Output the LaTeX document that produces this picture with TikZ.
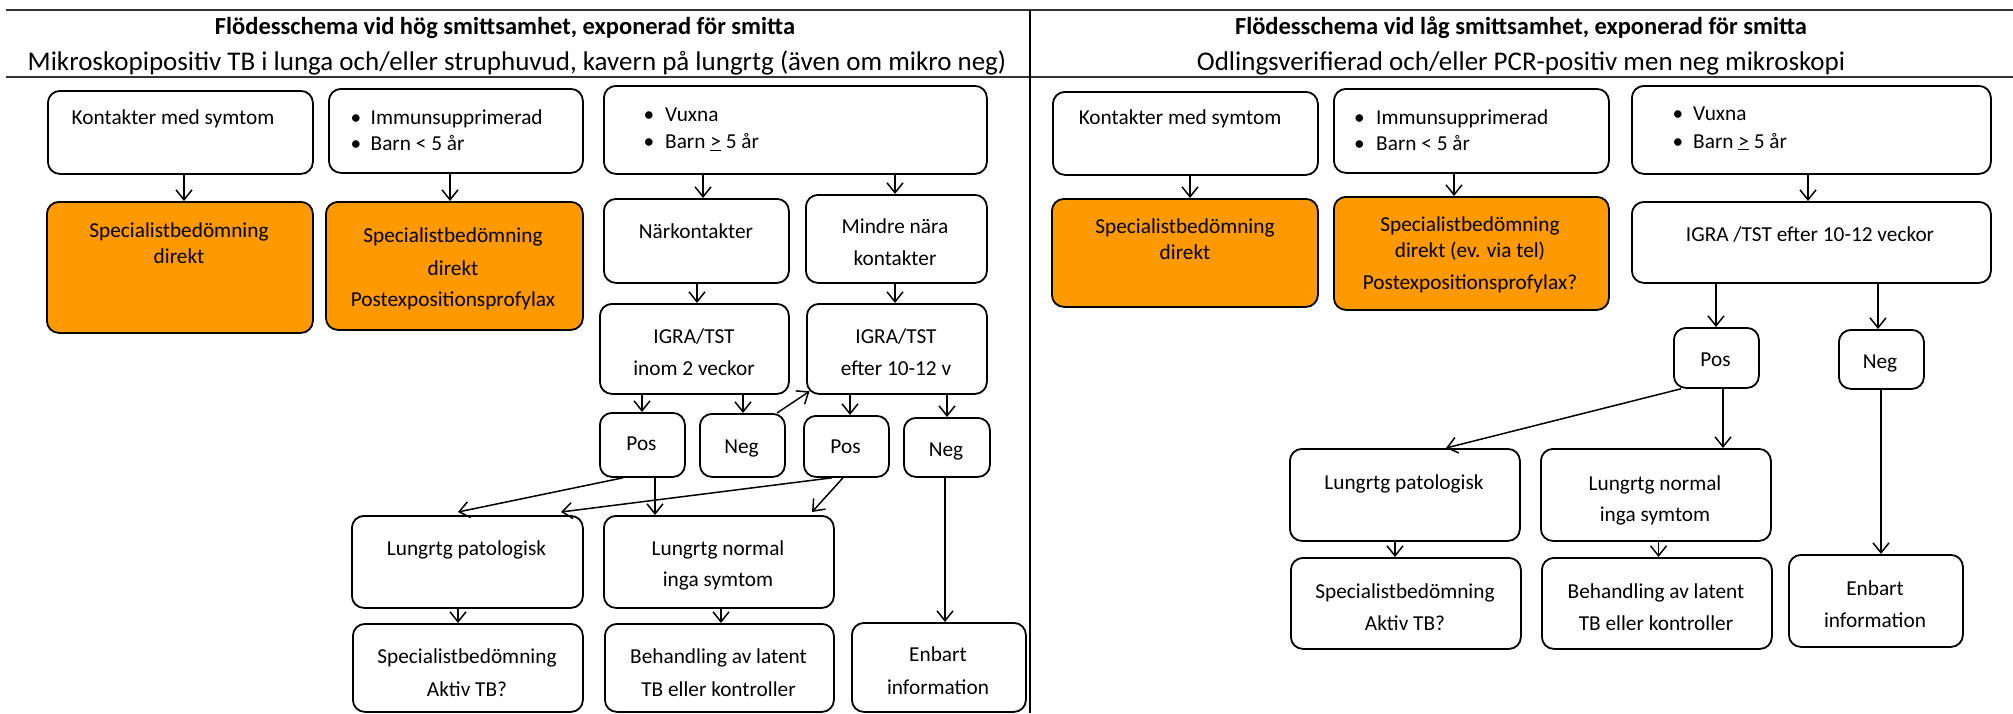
\documentclass[tikz,border=0pt]{standalone}
\usepackage{fontspec}
\setmainfont{Carlito}
\usetikzlibrary{arrows.meta}
\definecolor{orangefill}{RGB}{255,153,0}
\begin{document}
\begin{tikzpicture}[x=1pt,y=-1pt,
  box/.style={draw, line width=1.8pt, rounded corners=12pt, inner sep=0pt, anchor=north west},
  obox/.style={box, fill=orangefill},
  txt/.style={font=\fontsize{21.3}{26}\selectfont, inner sep=0pt, anchor=base},
  ltxt/.style={txt, anchor=base west},
  ttl/.style={font=\fontsize{24.5}{28}\selectfont\bfseries, inner sep=0pt, anchor=base},
  bigsub/.style={font=\fontsize{27}{32}\selectfont, inner sep=0pt, anchor=base},
  arr/.style={line width=1.5pt, -{Straight Barb[length=10pt,width=16pt,line width=1.5pt]}},
  rule/.style={line width=1.6pt, black!80}]
\useasboundingbox (0,0) rectangle (2013,713);
% frame lines
\draw[rule] (6,10) -- (2013,10);
\draw[rule] (6,77) -- (2013,77);
\draw[line width=1.2pt] (1030,10) -- (1030,713);
% titles
\node[ttl] (ht1) at (505,34) {Flödesschema vid hög smittsamhet, exponerad för smitta};
\node[bigsub] (hs1) at (517,70.5) {Mikroskopipositiv TB i lunga och/eller struphuvud, kavern på lungrtg (även om mikro neg)};
\node[ttl] (ht2) at (1521,34) {Flödesschema vid låg smittsamhet, exponerad för smitta};
\node[bigsub] (hs2) at (1521,70.5) {Odlingsverifierad och/eller PCR-positiv men neg mikroskopi};

% ---------------- left panel boxes
\node[box, minimum width=265, minimum height=83] (Lk) at (47,90) {};
\node[obox, minimum width=266, minimum height=131] (Lo1) at (46,201) {};
\node[box, minimum width=254, minimum height=84] (Li) at (328,88) {};
\node[obox, minimum width=257, minimum height=128] (Lo2) at (325,201) {};
\node[box, minimum width=383, minimum height=88] (Lv) at (603,85) {};
\node[box, minimum width=185, minimum height=84] (Ln) at (603,198) {};
\node[box, minimum width=181, minimum height=88] (Lm) at (805,194) {};
\node[box, minimum width=189, minimum height=90] (Lig1) at (599,303) {};
\node[box, minimum width=180, minimum height=90] (Lig2) at (806,303) {};
\node[box, minimum width=85, minimum height=64] (Lp1) at (599,412) {};
\node[box, minimum width=85, minimum height=63] (Ln1) at (699,413) {};
\node[box, minimum width=85, minimum height=61] (Lp2) at (803,415) {};
\node[box, minimum width=86, minimum height=59] (Ln2) at (903,417) {};
\node[box, minimum width=231, minimum height=92] (Llp) at (351,515) {};
\node[box, minimum width=230, minimum height=92] (Lln) at (603,515) {};
\node[box, minimum width=230, minimum height=88] (Lsa) at (352,623) {};
\node[box, minimum width=229, minimum height=88] (Lbh) at (604,623) {};
\node[box, minimum width=174, minimum height=89] (Len) at (851,622) {};

% left texts
\node[txt] (tLk) at (173,124.5) {Kontakter med symtom};
\node[txt] (tLo1a) at (179,237.5) {Specialistbedömning};
\node[txt] (tLo1b) at (179,263.5) {direkt};
\node[txt] (bLi1) at (356,124.5) {\textbullet};
\node[txt] (bLi2) at (356,150.5) {\textbullet};
\node[ltxt] (tLi1) at (370.5,124.5) {Immunsupprimerad};
\node[ltxt] (tLi2) at (370.5,150.5) {Barn < 5 år};
\node[txt] (tLo2a) at (453,242.5) {Specialistbedömning};
\node[txt] (tLo2b) at (453,275.5) {direkt};
\node[txt] (tLo2c) at (453,306.5) {Postexpositionsprofylax};
\node[txt] (bLv1) at (649,121.5) {\textbullet};
\node[txt] (bLv2) at (649,148.5) {\textbullet};
\node[ltxt] (tLv1) at (665,121.5) {Vuxna};
\node[ltxt] (tLv2) at (665,148.5) {Barn \underline{>} 5 år};
\node[txt] (tLn) at (696,238.5) {Närkontakter};
\node[txt] (tLma) at (895,233.5) {Mindre nära};
\node[txt] (tLmb) at (895,265.5) {kontakter};
\node[txt] (tLig1a) at (694,343) {IGRA/TST};
\node[txt] (tLig1b) at (694,375) {inom 2 veckor};
\node[txt] (tLig2a) at (896,343) {IGRA/TST};
\node[txt] (tLig2b) at (896,375) {efter 10-12 v};
\node[txt] (tLp1) at (641.5,450.5) {Pos};
\node[txt] (tLn1) at (741.5,453) {Neg};
\node[txt] (tLp2) at (845.5,453) {Pos};
\node[txt] (tLn2) at (946,456.5) {Neg};
\node[txt] (tLlp) at (466.5,555) {Lungrtg patologisk};
\node[txt] (tLlna) at (718,555.5) {Lungrtg normal};
\node[txt] (tLlnb) at (718,586.5) {inga symtom};
\node[txt] (tLsaa) at (467,663) {Specialistbedömning};
\node[txt] (tLsab) at (467,696.5) {Aktiv TB?};
\node[txt] (tLbha) at (718.5,663) {Behandling av latent};
\node[txt] (tLbhb) at (718.5,696.5) {TB eller kontroller};
\node[txt] (tLena) at (938,661.5) {Enbart};
\node[txt] (tLenb) at (938,694) {information};

% left connectors
\draw[arr] (Lk.south -| 184,0) -- (Lo1.north -| 184,0);
\draw[arr] (Li.south -| 450,0) -- (Lo2.north -| 450,0);
\draw[arr] (Lv.south -| 703,0) -- (Ln.north -| 703,0);
\draw[arr] (Lv.south -| 895,0) -- (Lm.north -| 895,0);
\draw[arr] (Ln.south -| 697,0) -- (Lig1.north -| 697,0);
\draw[arr] (Lm.south -| 895,0) -- (Lig2.north -| 895,0);
\draw[arr] (Lig1.south -| 642,0) -- (Lp1.north -| 642,0);
\draw[arr] (Lig1.south -| 743,0) -- (Ln1.north -| 743,0);
\draw[arr] (Lig2.south -| 850,0) -- (Lp2.north -| 850,0);
\draw[arr] (Lig2.south -| 947,0) -- (Ln2.north -| 947,0);
\draw[arr] (Ln1.north -| 777,0) -- ([shift={(3.5,-3.5)}]Lig2.south west);
\draw[arr] (Lp1.south -| 623,0) -- ([yshift=3]Llp.north -| 458,0);
\draw[arr] (Lp1.south -| 655,0) -- (Lln.north -| 655,0);
\draw[arr] (Lp2.south -| 832,0) -- ([yshift=3]Llp.north -| 561,0);
\draw[arr] (Lp2.south -| 843,0) -- ([yshift=3]Lln.north -| 812,0);
\draw[arr] (Ln2.south -| 945,0) -- (Len.north -| 945,0);
\draw[arr] (Llp.south -| 458,0) -- (Lsa.north -| 458,0);
\draw[arr] (Lln.south -| 721,0) -- (Lbh.north -| 721,0);

% ---------------- right panel boxes
\node[box, minimum width=265, minimum height=83] (Rk) at (1052,91) {};
\node[obox, minimum width=266, minimum height=108] (Ro1) at (1051,198) {};
\node[box, minimum width=275, minimum height=84] (Ri) at (1333,88) {};
\node[obox, minimum width=275, minimum height=113] (Ro2) at (1333,196) {};
\node[box, minimum width=359, minimum height=88] (Rv) at (1631,85) {};
\node[box, minimum width=359, minimum height=81] (Rig) at (1631,201) {};
\node[box, minimum width=85, minimum height=60] (Rp) at (1673,327) {};
\node[box, minimum width=85, minimum height=59] (Rn) at (1838,329) {};
\node[box, minimum width=230, minimum height=92] (Rlp) at (1289,448) {};
\node[box, minimum width=230, minimum height=92] (Rln) at (1540,448) {};
\node[box, minimum width=230, minimum height=91] (Rsa) at (1290,557) {};
\node[box, minimum width=230, minimum height=91] (Rbh) at (1541,557) {};
\node[box, minimum width=174, minimum height=92] (Ren) at (1788,554) {};

% right texts
\node[txt] (tRk) at (1180,124.8) {Kontakter med symtom};
\node[txt] (tRo1a) at (1185,233) {Specialistbedömning};
\node[txt] (tRo1b) at (1185,259) {direkt};
\node[txt] (bRi1) at (1359.5,124) {\textbullet};
\node[txt] (bRi2) at (1359.5,150.5) {\textbullet};
\node[ltxt] (tRi1) at (1376,124) {Immunsupprimerad};
\node[ltxt] (tRi2) at (1376,150.5) {Barn < 5 år};
\node[txt] (tRo2a) at (1470,231.5) {Specialistbedömning};
\node[txt] (tRo2b) at (1470,257) {direkt (ev. via tel)};
\node[txt] (tRo2c) at (1470,289) {Postexpositionsprofylax?};
\node[txt] (bRv1) at (1678,120) {\textbullet};
\node[txt] (bRv2) at (1678,148) {\textbullet};
\node[ltxt] (tRv1) at (1693,120) {Vuxna};
\node[ltxt] (tRv2) at (1693,148) {Barn \underline{>} 5 år};
\node[txt] (tRig) at (1810,241) {IGRA /TST efter 10-12 veckor};
\node[txt] (tRp) at (1715.5,366) {Pos};
\node[txt] (tRn) at (1880,368) {Neg};
\node[txt] (tRlp) at (1404,489) {Lungrtg patologisk};
\node[txt] (tRlna) at (1655,490) {Lungrtg normal};
\node[txt] (tRlnb) at (1655,521) {inga symtom};
\node[txt] (tRsaa) at (1405,598) {Specialistbedömning};
\node[txt] (tRsab) at (1405,630) {Aktiv TB?};
\node[txt] (tRbha) at (1656,598) {Behandling av latent};
\node[txt] (tRbhb) at (1656,630) {TB eller kontroller};
\node[txt] (tRena) at (1875,595) {Enbart};
\node[txt] (tRenb) at (1875,627) {information};

% right connectors
\draw[arr] (Rk.south -| 1190,0) -- (Ro1.north -| 1190,0);
\draw[arr] (Ri.south -| 1454,0) -- (Ro2.north -| 1454,0);
\draw[arr] (Rv.south -| 1808,0) -- (Rig.north -| 1808,0);
\draw[arr] (Rig.south -| 1716,0) -- (Rp.north -| 1716,0);
\draw[arr] (Rig.south -| 1878,0) -- (Rn.north -| 1878,0);
\draw[arr] (Rp.south -| 1681,0) -- (Rlp.north -| 1446,0);
\draw[arr] (Rp.south -| 1723,0) -- (Rln.north -| 1723,0);
\draw[arr] (Rn.south -| 1881,0) -- (Ren.north -| 1881,0);
\draw[arr] (Rlp.south -| 1395,0) -- (Rsa.north -| 1395,0);
\draw[arr] (Rln.south -| 1658.5,0) -- (Rbh.north -| 1658.5,0);
\end{tikzpicture}
\end{document}
